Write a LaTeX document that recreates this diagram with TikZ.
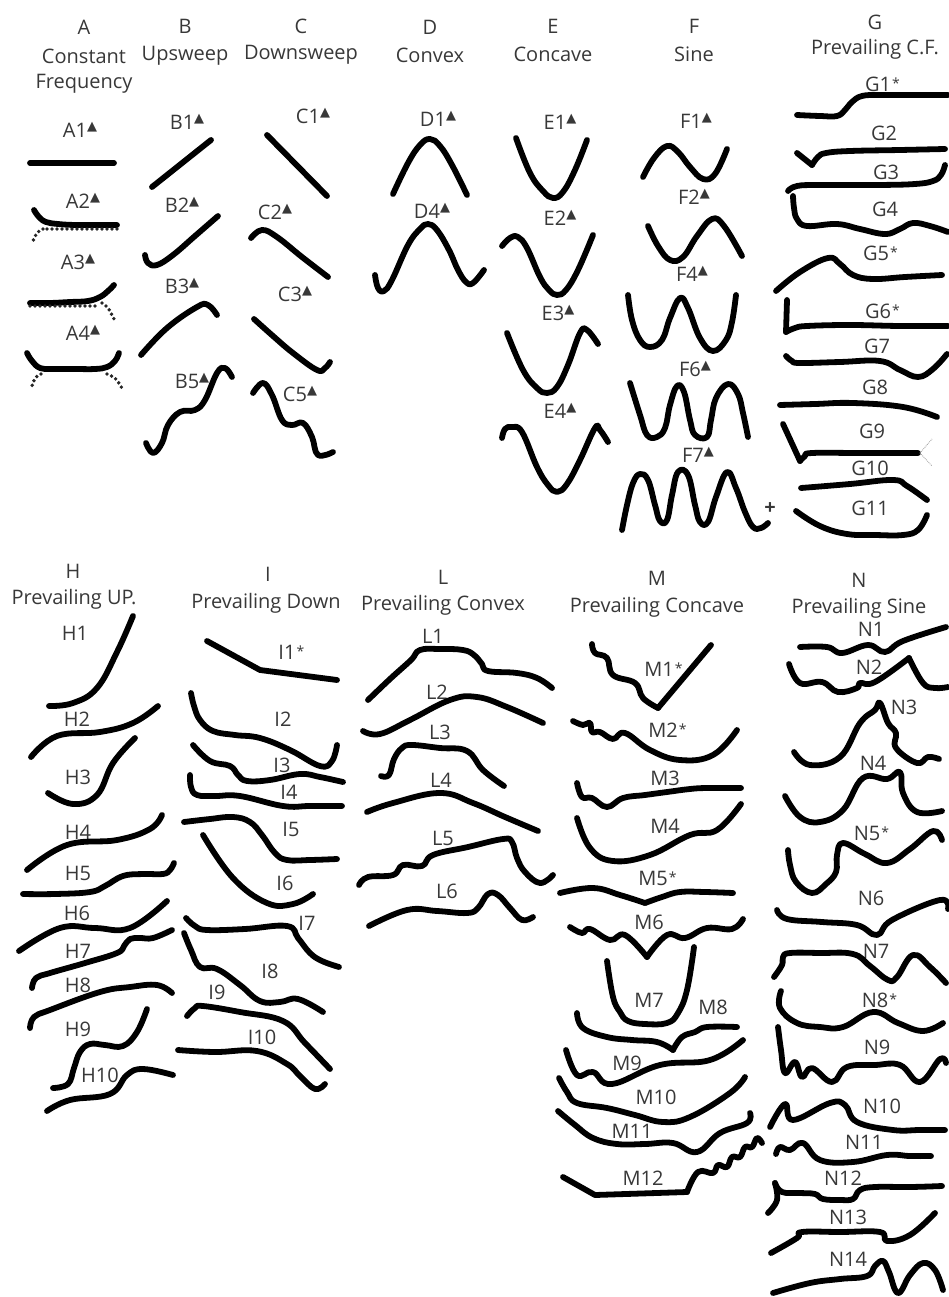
\documentclass[tikz,border=0pt]{standalone}
\usepackage{fontspec}
\setmainfont{Open Sans}
\newfontfamily\symfont{DejaVu Sans}
\newcommand{\trimark}{\rlap{\raisebox{0.6ex}{\symfont\fontsize{13}{13}\selectfont ▲}}}
\newcommand{\starmark}{\rlap{\raisebox{0.25ex}{\hspace{1pt}\fontsize{14}{14}\selectfont *}}}
\newcommand{\whistle}[1]{\draw[trace] plot[smooth,tension=0.7] coordinates {#1};}
\tikzset{
  trace/.style={
    line width = 5.8pt,
    line cap = round,
    line join = round,
    black
  },
  harmonic/.style={
    line width = 3.8pt,
    line cap = round,
    dash pattern = on 0pt off 5pt,
    black!85
  },
  faint/.style={
    line width = 0.8pt,
    densely dotted,
    black!40
  },
  head/.style={
    font = \fontsize{20}{20}\selectfont,
    text = black!78,
    inner sep = 0pt
  },
  lab/.style={
    font = \fontsize{20}{20}\selectfont,
    text = black!78,
    inner sep = 0pt
  },
}
\begin{document}
\begin{tikzpicture}[x=1pt,y=-1pt]
  \useasboundingbox (0,0) rectangle (949,1297);
  % column titles
  \node[head] (A) at (84,27) {A};
  \node[head] (Aname) at (84,56) {Constant};
  \node[head] (Aname2) at (84,84) {Frequency};
  \node[head] (B) at (185,26) {B};
  \node[head] (Bname) at (185,56) {Upsweep};
  \node[head] (C) at (301,26) {C};
  \node[head] (Cname) at (301,55) {Downsweep};
  \node[head] (D) at (430,27) {D};
  \node[head] (Dname) at (430,55) {Convex};
  \node[head] (E) at (553,26) {E};
  \node[head] (Ename) at (553,54) {Concave};
  \node[head] (F) at (694,26) {F};
  \node[head] (Fname) at (694,54) {Sine};
  \node[head] (G) at (875,22) {G};
  \node[head] (Gname) at (875,49) {Prevailing C.F.};
  \node[head] (H) at (73,571) {H};
  \node[head] (Hname) at (74,599) {Prevailing UP.};
  \node[head] (I) at (268,574) {I};
  \node[head] (Iname) at (266,603) {Prevailing Down};
  \node[head] (L) at (443,577) {L};
  \node[head] (Lname) at (443,605) {Prevailing Convex};
  \node[head] (M) at (657,578) {M};
  \node[head] (Mname) at (657,607) {Prevailing Concave};
  \node[head] (N) at (859,580) {N};
  \node[head] (Nname) at (859,608) {Prevailing Sine};
  % A
  \node[lab] (A1) at (75,130) {A1\trimark};
  \node[lab] (A2) at (78,201) {A2\trimark};
  \node[lab] (A3) at (73,262) {A3\trimark};
  \node[lab] (A4) at (78,333) {A4\trimark};
  \whistle{(30,163) (114,163)}
  \whistle{(34,210) (39,217) (46,222) (58,224) (75,225) (95,225) (117,225)}
  \draw[harmonic] (47,229) -- (117,229);
  \draw[harmonic] (43,229) .. controls (37,232) .. (33,241);
  \whistle{(30,303) (50,303) (70,302) (88,301) (100,297) (108,291) (114,285)}
  \draw[harmonic] (30,306) -- (98,306);
  \draw[harmonic] (102,303) .. controls (108,307) .. (114,319);
  \whistle{(27,353) (32,361) (40,368) (52,369) (75,369) (95,369) (107,367) (115,361) (119,353)}
  \draw[harmonic] (41,374) .. controls (35,377) .. (31,389);
  \draw[harmonic] (107,374) .. controls (116,378) .. (123,390);
  % B
  \node[lab] (B1) at (182,122) {B1\trimark};
  \node[lab] (B2) at (177,205) {B2\trimark};
  \node[lab] (B3) at (177,286) {B3\trimark};
  \node[lab] (B5) at (187,381) {B5\trimark};
  \whistle{(152,187) (211,140)}
  \whistle{(145,255) (148,263) (157,265) (173,255) (195,236) (218,216)}
  \whistle{(141,355) (167,328) (197,307) (208,305) (217,315)}
  \whistle{(146,443) (153,453) (162,443) (168,425) (180,412) (195,410) (205,400) (217,373) (225,368) (232,377)}
  % C
  \node[lab] (C1) at (308,116) {C1\trimark};
  \node[lab] (C2) at (270,212) {C2\trimark};
  \node[lab] (C3) at (290,294) {C3\trimark};
  \node[lab] (C5) at (295,394) {C5\trimark};
  \whistle{(267,135) (327,196)}
  \whistle{(251,238) (262,230) (277,237) (302,257) (328,277)}
  \whistle{(254,319) (273,336) (293,353) (317,370) (325,368) (330,362)}
  \whistle{(253,393) (263,383) (272,395) (282,420) (292,425) (303,423) (312,437) (318,455) (333,452)}
  % D
  \node[lab] (D1) at (433,119) {D1\trimark};
  \node[lab] (D4) at (427,211) {D4\trimark};
  \whistle{(393,194) (408,163) (420,145) (430,139) (440,146) (452,165) (467,195)}
  \whistle{(375,275) (378,288) (384,291) (392,280) (408,245) (420,229) (428,224) (437,230) (449,250) (458,270) (466,282) (473,283) (484,270)}
  % E
  \node[lab] (E1) at (555,122) {E1\trimark};
  \node[lab] (E2) at (555,218) {E2\trimark};
  \node[lab] (E3) at (553,313) {E3\trimark};
  \node[lab] (E4) at (555,411) {E4\trimark};
  \whistle{(516,138) (530,173) (543,191) (553,198) (563,192) (575,170) (587,140)}
  \whistle{(502,246) (510,238) (518,237) (527,248) (540,277) (549,290) (557,295) (566,290) (578,270) (593,235)}
  \whistle{(507,333) (523,370) (537,388) (547,393) (557,387) (568,365) (580,333) (587,330) (598,344)}
  \whistle{(502,438) (505,429) (512,427) (522,432) (537,467) (548,485) (557,492) (567,484) (580,460) (595,428) (600,430) (608,442)}
  % F
  \node[lab] (F1) at (691,121) {F1\trimark};
  \node[lab] (F2) at (689,197) {F2\trimark};
  \node[lab] (F4) at (687,274) {F4\trimark};
  \node[lab] (F6) at (690,369) {F6\trimark};
  \node[lab] (F7) at (693,455) {F7\trimark};
  \node[lab] (plus) at (770,509) {\textbf{+}};
  \whistle{(643,177) (654,158) (667,146) (678,152) (690,167) (703,179) (715,174) (727,149)}
  \whistle{(648,226) (658,246) (670,260) (683,257) (697,236) (712,219) (724,226) (742,256)}
  \whistle{(628,295) (632,320) (640,340) (650,347) (662,340) (670,318) (680,298) (688,308) (700,338) (713,351) (726,340) (732,322) (736,295)}
  \whistle{(630,383) (640,415) (647,435) (657,437) (665,428) (670,405) (677,386) (684,392) (690,420) (695,435) (707,437) (711,420) (716,398) (728,384) (738,394) (743,413) (748,437)}
  \whistle{(622,530) (627,505) (633,483) (640,474) (648,480) (655,505) (660,521) (667,520) (672,495) (678,472) (688,475) (695,505) (700,522) (708,522) (716,497) (727,472) (736,488) (745,512) (753,527) (761,528) (768,523)}
  % G
  \node[lab] (G1) at (878,84) {G1\starmark};
  \node[lab] (G2) at (884,133) {G2};
  \node[lab] (G3) at (886,172) {G3};
  \node[lab] (G4) at (885,209) {G4};
  \node[lab] (G5) at (876,253) {G5\starmark};
  \node[lab] (G6) at (878,311) {G6\starmark};
  \node[lab] (G7) at (877,346) {G7};
  \node[lab] (G8) at (875,387) {G8};
  \node[lab] (G9) at (872,431) {G9};
  \node[lab] (G10) at (870,468) {G10};
  \node[lab] (G11) at (870,508) {G11};
  \whistle{(797,115) (820,116) (837,116) (845,110) (852,102) (862,96) (880,95) (915,95) (948,95)}
  \draw[trace] (797,153) -- (812,165);
  \whistle{(812,165) (818,157) (826,153) (850,151) (900,150) (945,149)}
  \whistle{(788,191) (797,186) (820,185) (877,185) (915,184) (933,181) (941,175) (945,165)}
  \whistle{(793,196) (794,208) (797,219) (807,226) (837,224) (860,229) (885,234) (900,229) (913,223) (930,226) (948,232)}
  \whistle{(776,291) (800,272) (828,258) (840,264) (853,275) (873,279) (905,277) (942,275)}
  \draw[trace] (787,300) -- (786,332);
  \whistle{(786,332) (795,328) (807,326) (850,325) (900,326) (948,326)}
  \whistle{(786,356) (792,361) (800,363) (840,362) (880,361) (900,370) (918,377) (933,369) (947,354)}
  \whistle{(780,405) (815,404) (853,403) (903,407) (937,417)}
  \draw[trace] (783,424) -- (800,461);
  \whistle{(800,461) (805,456) (812,453) (860,453) (918,453)}
  \draw[faint] (920,453) -- (932,439);
  \draw[faint] (920,453) -- (932,466);
  \whistle{(801,488) (850,484) (893,480) (907,486) (927,500)}
  \whistle{(796,511) (820,526) (847,534) (875,535) (903,535) (918,530) (927,515)}
  % H
  \node[lab] (H1) at (75,633) {H1};
  \node[lab] (H2) at (77,719) {H2};
  \node[lab] (H3) at (78,777) {H3};
  \node[lab] (H4) at (78,832) {H4};
  \node[lab] (H5) at (78,873) {H5};
  \node[lab] (H6) at (77,913) {H6};
  \node[lab] (H7) at (78,951) {H7};
  \node[lab] (H8) at (78,985) {H8};
  \node[lab] (H9) at (78,1029) {H9};
  \node[lab] (H10) at (100,1075) {H10};
  \whistle{(49,706) (73,703) (97,688) (117,652) (133,616)}
  \whistle{(31,757) (57,736) (100,732) (133,723) (158,706)}
  \whistle{(48,793) (73,804) (97,795) (113,763) (135,738)}
  \whistle{(27,870) (67,845) (117,840) (150,829) (162,815)}
  \whistle{(23,894) (55,894) (90,892) (105,886) (123,876) (143,874) (163,874) (170,870) (174,863)}
  \whistle{(19,951) (60,928) (95,928) (130,928) (167,901)}
  \whistle{(32,988) (36,978) (50,973) (85,963) (117,953) (124,946) (130,939) (140,938) (153,938) (172,930)}
  \whistle{(30,1028) (34,1017) (50,1010) (100,992) (130,987) (157,985) (172,993)}
  \whistle{(53,1088) (68,1084) (74,1068) (80,1052) (90,1044) (105,1045) (123,1046) (137,1032) (147,1009)}
  \whistle{(47,1111) (70,1100) (110,1094) (127,1075) (143,1069) (173,1075)}
  % I
  \node[lab] (I1) at (287,652) {I1\starmark};
  \node[lab] (I2) at (283,719) {I2};
  \node[lab] (I3) at (282,765) {I3};
  \node[lab] (I4) at (289,792) {I4};
  \node[lab] (I5) at (291,829) {I5};
  \node[lab] (I6) at (285,883) {I6};
  \node[lab] (I7) at (307,923) {I7};
  \node[lab] (I8) at (270,971) {I8};
  \node[lab] (I9) at (217,992) {I9};
  \node[lab] (I10) at (262,1037) {I10};
  \draw[trace] (207,641) -- (260,670) -- (337,680);
  \whistle{(191,693) (194,706) (200,720) (213,731) (235,735) (260,738) (290,750) (320,766) (332,761) (337,745)}
  \whistle{(193,745) (210,761) (230,766) (238,775) (247,781) (270,780) (300,774) (320,777) (343,782)}
  \whistle{(190,775) (191,787) (197,795) (215,796) (240,796) (283,806) (310,806) (342,806)}
  \whistle{(184,822) (210,819) (233,817) (250,822) (262,835) (275,853) (287,860) (310,860) (337,859)}
  \whistle{(203,835) (233,878) (267,903) (293,904) (313,894)}
  \whistle{(186,918) (195,926) (207,930) (245,929) (287,926) (298,938) (310,953) (322,961) (339,967)}
  \whistle{(184,933) (191,950) (200,967) (217,969) (240,985) (260,1001) (280,1002) (298,999) (323,1012)}
  \whistle{(187,1016) (195,1008) (203,1006) (240,1012) (283,1021) (305,1043) (330,1069)}
  \whistle{(178,1050) (215,1052) (257,1051) (287,1064) (300,1076) (315,1089) (325,1084)}
  % L
  \node[lab] (L1) at (433,636) {L1};
  \node[lab] (L2) at (437,692) {L2};
  \node[lab] (L3) at (440,732) {L3};
  \node[lab] (L4) at (441,780) {L4};
  \node[lab] (L5) at (443,838) {L5};
  \node[lab] (L6) at (447,891) {L6};
  \whistle{(368,700) (390,679) (411,660) (420,650) (440,649) (463,650) (474,655) (482,664) (488,671) (517,673) (537,678) (552,688)}
  \whistle{(363,731) (380,734) (410,720) (450,700) (477,697) (507,707) (543,723)}
  \whistle{(381,776) (389,775) (394,759) (402,748) (412,745) (440,748) (467,751) (483,770) (504,786)}
  \whistle{(367,812) (393,803) (440,793) (473,803) (505,817) (538,831)}
  \whistle{(359,885) (368,877) (393,875) (403,865) (422,866) (433,855) (468,847) (503,839) (512,842) (517,858) (525,872) (540,883) (553,875)}
  \whistle{(369,926) (407,910) (437,911) (467,913) (478,908) (488,894) (498,895) (510,908) (522,920) (533,917)}
  % M
  \node[lab] (M1) at (659,669) {M1\starmark};
  \node[lab] (M2) at (663,730) {M2\starmark};
  \node[lab] (M3) at (665,778) {M3};
  \node[lab] (M4) at (665,826) {M4};
  \node[lab] (M5) at (653,878) {M5\starmark};
  \node[lab] (M6) at (649,922) {M6};
  \node[lab] (M7) at (649,1000) {M7};
  \node[lab] (M8) at (713,1007) {M8};
  \node[lab] (M9) at (627,1063) {M9};
  \node[lab] (M10) at (656,1097) {M10};
  \node[lab] (M11) at (632,1131) {M11};
  \node[lab] (M12) at (643,1178) {M12};
  \whistle{(592,644) (595,653) (607,658) (613,675) (635,683) (643,698) (658,708)}
  \draw[trace] (658,708) -- (711,645);
  \whistle{(573,721) (583,725) (590,723) (592,732) (600,732) (613,739) (625,733) (650,750) (680,760) (713,755) (737,730)}
  \whistle{(577,783) (582,797) (592,798) (607,807) (623,798) (645,795) (667,792) (690,789) (707,788) (741,788)}
  \whistle{(577,818) (590,848) (613,861) (650,855) (690,835) (717,830) (741,804)}
  \whistle{(560,893) (593,888) (620,895) (645,903)}
  \whistle{(645,903) (662,897) (680,892) (705,892) (733,893)}
  \whistle{(570,927) (582,933) (590,929) (610,940) (625,935) (647,957)}
  \whistle{(647,957) (667,935) (685,938) (707,928) (732,929) (743,919)}
  \whistle{(607,961) (613,997) (620,1012) (628,1021) (645,1024) (667,1023) (678,1013) (687,990) (694,947)}
  \whistle{(577,1013) (583,1028) (607,1037) (632,1040) (657,1042) (673,1050)}
  \whistle{(673,1050) (682,1037) (695,1032) (707,1027) (737,1027)}
  \whistle{(566,1050) (577,1075) (593,1072) (612,1084) (660,1065) (710,1060) (743,1040)}
  \whistle{(559,1078) (567,1092) (577,1103) (607,1108) (635,1115) (663,1122) (690,1117) (730,1093) (745,1077)}
  \whistle{(558,1111) (575,1125) (593,1138) (617,1144) (645,1144) (673,1143) (697,1152) (720,1133) (747,1123) (750,1113)}
  \draw[trace] (563,1177) -- (595,1195) -- (687,1192);
  \whistle{(687,1192) (698,1172) (713,1173) (718,1165) (727,1167) (732,1157) (740,1157) (745,1147) (752,1147) (757,1138) (762,1143)}
  % N
  \node[lab] (N1) at (871,629) {N1};
  \node[lab] (N2) at (869,667) {N2};
  \node[lab] (N3) at (904,707) {N3};
  \node[lab] (N4) at (873,763) {N4};
  \node[lab] (N5) at (867,833) {N5\starmark};
  \node[lab] (N6) at (871,898) {N6};
  \node[lab] (N7) at (876,951) {N7};
  \node[lab] (N8) at (875,1000) {N8\starmark};
  \node[lab] (N9) at (877,1047) {N9};
  \node[lab] (N10) at (882,1106) {N10};
  \node[lab] (N11) at (864,1142) {N11};
  \node[lab] (N12) at (843,1178) {N12};
  \node[lab] (N13) at (848,1217) {N13};
  \node[lab] (N14) at (848,1259) {N14};
  \whistle{(800,647) (827,647) (842,653) (868,645) (885,652) (903,641) (946,627)}
  \whistle{(789,664) (800,683) (822,682) (838,692) (857,688) (860,683) (875,682) (909,658)}
  \whistle{(909,658) (923,683) (935,688) (948,687)}
  \whistle{(794,752) (810,765) (840,757) (860,723) (875,710) (880,703) (888,723) (896,733) (896,748) (917,763) (928,757) (939,759)}
  \whistle{(785,796) (800,817) (820,822) (843,810) (863,778) (887,779) (900,772) (903,793) (917,812) (942,811)}
  \whistle{(788,850) (790,865) (796,882) (812,893) (826,884) (836,872) (837,855) (843,843) (865,854) (887,863) (910,849) (933,831) (942,840)}
  \whistle{(777,910) (787,919) (822,922) (857,925) (877,935) (892,920) (940,900) (948,909)}
  \whistle{(774,977) (782,965) (783,957) (790,953) (820,953) (853,954) (870,966) (888,980) (897,977) (913,955) (930,967) (946,983)}
  \whistle{(781,991) (780,1008) (797,1023) (820,1027) (843,1027) (873,1012) (898,1023) (923,1031) (943,1023)}
  \whistle{(778,1027) (781,1050) (785,1073) (795,1062) (802,1077) (812,1068) (832,1082) (847,1067) (875,1065) (900,1065) (920,1082) (940,1059) (946,1063)}
  \whistle{(770,1127) (785,1104) (793,1120) (830,1103) (845,1105) (857,1122) (893,1130) (920,1130) (945,1130)}
  \whistle{(776,1154) (780,1147) (790,1150) (803,1143) (820,1160) (853,1162) (887,1155) (910,1156) (931,1156)}
  \whistle{(768,1213) (777,1200) (775,1183)}
  \whistle{(775,1183) (782,1192) (800,1193) (815,1194) (823,1199) (840,1200) (853,1199) (860,1190) (875,1187) (910,1187) (942,1186)}
  \whistle{(771,1253) (797,1238) (802,1232) (840,1232) (880,1232) (887,1241) (910,1235) (935,1213)}
  \whistle{(773,1293) (810,1283) (840,1279) (867,1276) (875,1266) (883,1261) (889,1272) (898,1293) (910,1275) (923,1263) (935,1270) (943,1290)}
\end{tikzpicture}
\end{document}
